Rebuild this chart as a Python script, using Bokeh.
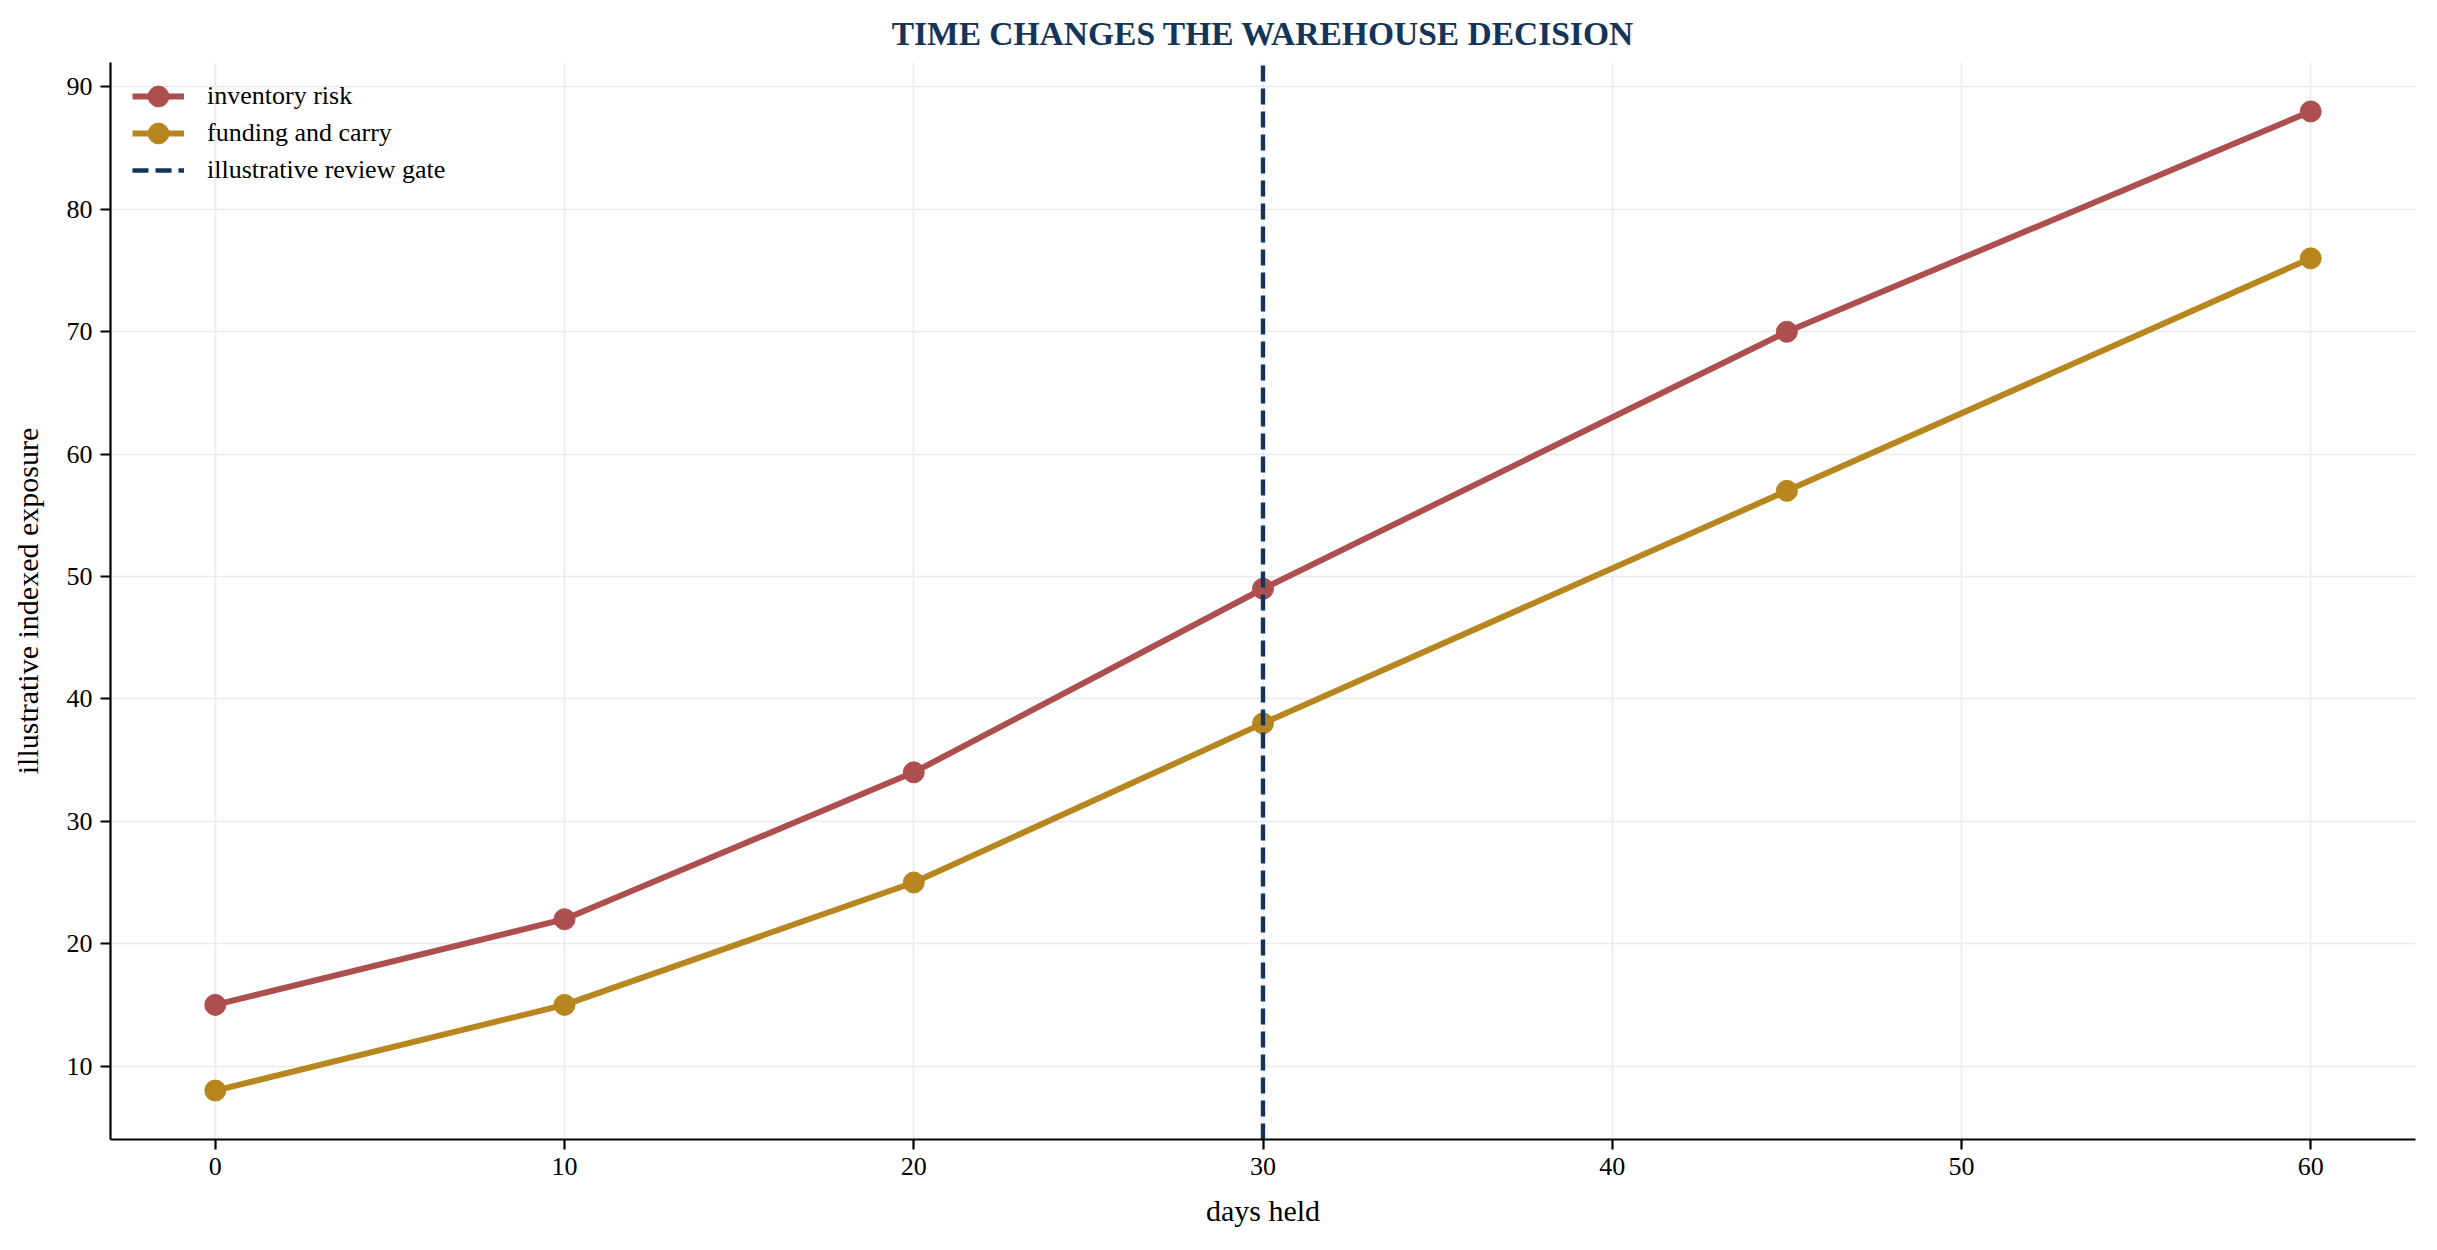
from bokeh.plotting import figure
from bokeh.models import Range1d, FixedTicker, Legend, LegendItem
from bokeh.embed import file_html
from bokeh.resources import INLINE

days = [0, 10, 20, 30, 45, 60]
inventory_risk = [15, 22, 34, 49, 70, 88]
funding_carry = [8, 15, 25, 38, 57, 76]
gate_day = 30
x_ticks = [0, 10, 20, 30, 40, 50, 60]
y_ticks = [10, 20, 30, 40, 50, 60, 70, 80, 90]
legend_labels = ["inventory risk", "funding and carry", "illustrative review gate"]

RED = "#ae4f4f"
GOLD = "#b8861f"
NAVY = "#14345a"
FONT = "Liberation Serif"

xmin, xmax = min(days), max(days)
allv = inventory_risk + funding_carry
ymin, ymax = min(allv), max(allv)
xpad = (xmax - xmin) * 0.05
ypad = (ymax - ymin) * 0.05
y_lo, y_hi = ymin - ypad, ymax + ypad

W, H = 2420, 1234
BL, BR, BT, BB = 110, 5, 62, 95

p = figure(width=W, height=H, output_backend="svg", toolbar_location=None,
           x_range=Range1d(xmin - xpad, xmax + xpad), y_range=Range1d(y_lo, y_hi),
           min_border_left=BL, min_border_right=BR, min_border_top=BT, min_border_bottom=BB)

p.title.text = "TIME CHANGES THE WAREHOUSE DECISION"
p.title.align = "center"
p.title.text_font = FONT
p.title.text_font_style = "bold"
p.title.text_font_size = "33.5px"
p.title.text_color = NAVY
p.title.standoff = 22

p.outline_line_color = None
p.background_fill_color = "white"
p.border_fill_color = "white"

for ax in (p.xaxis[0], p.yaxis[0]):
    ax.axis_line_color = "black"
    ax.axis_line_width = 2.2
    ax.major_tick_line_color = "black"
    ax.major_tick_line_width = 2.2
    ax.major_tick_out = 10
    ax.major_tick_in = 0
    ax.minor_tick_line_color = None
    ax.major_label_text_font = FONT
    ax.major_label_text_font_size = "26px"
    ax.major_label_text_color = "black"
    ax.major_label_standoff = 8
    ax.axis_label_text_font = FONT
    ax.axis_label_text_font_size = "30px"
    ax.axis_label_text_font_style = "normal"
    ax.axis_label_text_color = "black"

p.xaxis.axis_label = "days held"
p.yaxis.axis_label = "illustrative indexed exposure"
p.xaxis.axis_label_standoff = 16
p.yaxis.axis_label_standoff = 20
p.xaxis.ticker = FixedTicker(ticks=x_ticks)
p.yaxis.ticker = FixedTicker(ticks=y_ticks)

p.grid.grid_line_color = "#ebebeb"
p.grid.grid_line_width = 1.6
p.xgrid.ticker = FixedTicker(ticks=x_ticks)
p.ygrid.ticker = FixedTicker(ticks=y_ticks)

r1l = p.line(days, inventory_risk, line_color=RED, line_width=6)
r1s = p.scatter(days, inventory_risk, size=21, fill_color=RED, line_color=RED)
r2l = p.line(days, funding_carry, line_color=GOLD, line_width=6)
r2s = p.scatter(days, funding_carry, size=21, fill_color=GOLD, line_color=GOLD)
r3 = p.line([gate_day, gate_day], [y_lo, y_hi], line_color=NAVY, line_width=4.4,
            line_dash="16 7")

GH = 52
STEP = 37
FIRST = 34
frame_h = H - BT - BB
groups = [[r1l, r1s], [r2l, r2s], [r3]]
for i, (lab, rs) in enumerate(zip(legend_labels, groups)):
    center = FIRST + i * STEP
    lg = Legend(items=[LegendItem(label=lab, renderers=rs)],
                location=(22, frame_h - center - GH // 2))
    lg.label_text_font = FONT
    lg.label_text_font_size = "26px"
    lg.label_text_color = "black"
    lg.border_line_alpha = 0
    lg.background_fill_alpha = 0
    lg.glyph_width = 52
    lg.glyph_height = GH
    lg.label_height = 30
    lg.label_standoff = 23
    lg.padding = 0
    lg.margin = 0
    p.add_layout(lg, "center")

open("out.html", "w").write(file_html(p, INLINE))
